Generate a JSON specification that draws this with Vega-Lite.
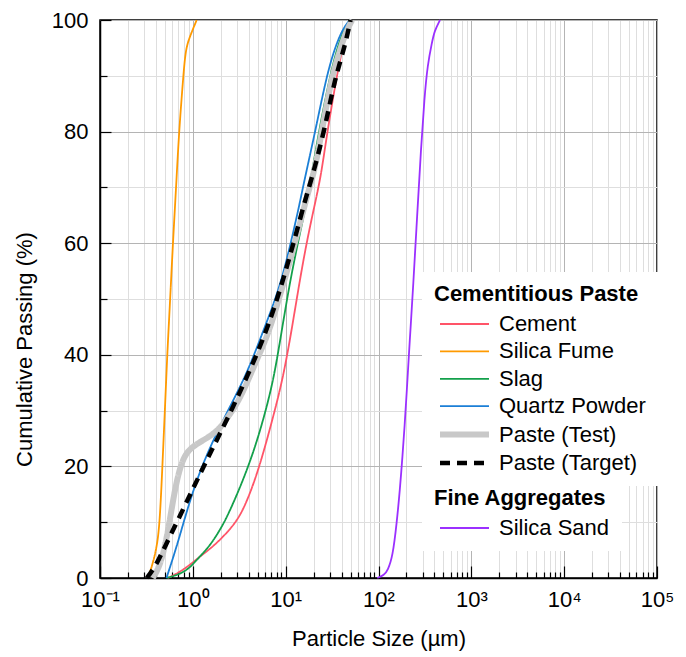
{
  "$schema": "https://vega.github.io/schema/vega-lite/v6.json",
  "width": 557,
  "height": 558,
  "autosize": {"type": "none"},
  "padding": {"left": 100, "top": 20, "right": 29, "bottom": 79},
  "background": "white",
  "config": {
    "font": "Liberation Sans",
    "view": {"stroke": "black", "strokeWidth": 1.5},
    "axis": {"labelFontSize": 22, "titleFontSize": 22, "labelColor": "black", "titleColor": "black", "titleFontWeight": "normal", "domainColor": "black", "domainWidth": 1.5, "tickColor": "black", "tickWidth": 1.2, "labelFlush": false, "labelOverlap": false, "labelBound": false},
    "legend": {"titleLimit": 400, "labelLimit": 400}
  },
  "datasets": {
    "paste": [
      {"material": "Cement", "size": 0.54, "passing": 0},
      {"material": "Cement", "size": 0.73, "passing": 1.1},
      {"material": "Cement", "size": 0.97, "passing": 2.6},
      {"material": "Cement", "size": 1.18, "passing": 3.8},
      {"material": "Cement", "size": 1.65, "passing": 5.6},
      {"material": "Cement", "size": 2.5, "passing": 8.6},
      {"material": "Cement", "size": 3.4, "passing": 11.6},
      {"material": "Cement", "size": 4.7, "passing": 17.6},
      {"material": "Cement", "size": 6.0, "passing": 23.5},
      {"material": "Cement", "size": 7.5, "passing": 29.5},
      {"material": "Cement", "size": 9.4, "passing": 36},
      {"material": "Cement", "size": 11.6, "passing": 44.4},
      {"material": "Cement", "size": 14.2, "passing": 53.4},
      {"material": "Cement", "size": 17, "passing": 60.5},
      {"material": "Cement", "size": 20, "passing": 66},
      {"material": "Cement", "size": 24, "passing": 72},
      {"material": "Cement", "size": 27.5, "passing": 79},
      {"material": "Cement", "size": 35.5, "passing": 90},
      {"material": "Cement", "size": 41, "passing": 95},
      {"material": "Cement", "size": 46, "passing": 98},
      {"material": "Cement", "size": 51, "passing": 100},
      {"material": "Silica Fume", "size": 0.33, "passing": 0},
      {"material": "Silica Fume", "size": 0.37, "passing": 2.6},
      {"material": "Silica Fume", "size": 0.41, "passing": 5.6},
      {"material": "Silica Fume", "size": 0.44, "passing": 9.8},
      {"material": "Silica Fume", "size": 0.47, "passing": 20},
      {"material": "Silica Fume", "size": 0.515, "passing": 35},
      {"material": "Silica Fume", "size": 0.53, "passing": 40},
      {"material": "Silica Fume", "size": 0.57, "passing": 50},
      {"material": "Silica Fume", "size": 0.61, "passing": 60},
      {"material": "Silica Fume", "size": 0.66, "passing": 70},
      {"material": "Silica Fume", "size": 0.71, "passing": 80},
      {"material": "Silica Fume", "size": 0.79, "passing": 90},
      {"material": "Silica Fume", "size": 0.82, "passing": 93},
      {"material": "Silica Fume", "size": 0.86, "passing": 95.5},
      {"material": "Silica Fume", "size": 0.97, "passing": 97.8},
      {"material": "Silica Fume", "size": 1.1, "passing": 100},
      {"material": "Slag", "size": 0.52, "passing": 0},
      {"material": "Slag", "size": 0.7, "passing": 0.6},
      {"material": "Slag", "size": 0.85, "passing": 1.4},
      {"material": "Slag", "size": 0.97, "passing": 2.2},
      {"material": "Slag", "size": 1.18, "passing": 3.8},
      {"material": "Slag", "size": 1.53, "passing": 5.8},
      {"material": "Slag", "size": 1.96, "passing": 8.6},
      {"material": "Slag", "size": 2.4, "passing": 11.3},
      {"material": "Slag", "size": 3.5, "passing": 17.6},
      {"material": "Slag", "size": 4.7, "passing": 23.5},
      {"material": "Slag", "size": 6.0, "passing": 29.5},
      {"material": "Slag", "size": 7.5, "passing": 36},
      {"material": "Slag", "size": 9.0, "passing": 44},
      {"material": "Slag", "size": 11.1, "passing": 53},
      {"material": "Slag", "size": 13.7, "passing": 60.5},
      {"material": "Slag", "size": 16.2, "passing": 66},
      {"material": "Slag", "size": 19.4, "passing": 73},
      {"material": "Slag", "size": 22.5, "passing": 79.5},
      {"material": "Slag", "size": 30, "passing": 90},
      {"material": "Slag", "size": 36, "passing": 95},
      {"material": "Slag", "size": 41.7, "passing": 98},
      {"material": "Slag", "size": 49, "passing": 100},
      {"material": "Quartz Powder", "size": 0.52, "passing": 0},
      {"material": "Quartz Powder", "size": 0.67, "passing": 5.6},
      {"material": "Quartz Powder", "size": 0.84, "passing": 11.4},
      {"material": "Quartz Powder", "size": 1.1, "passing": 17.6},
      {"material": "Quartz Powder", "size": 1.53, "passing": 23.5},
      {"material": "Quartz Powder", "size": 2.3, "passing": 29.5},
      {"material": "Quartz Powder", "size": 3.8, "passing": 36.5},
      {"material": "Quartz Powder", "size": 5.5, "passing": 43.5},
      {"material": "Quartz Powder", "size": 8.0, "passing": 50.5},
      {"material": "Quartz Powder", "size": 10.1, "passing": 56.5},
      {"material": "Quartz Powder", "size": 12, "passing": 61.8},
      {"material": "Quartz Powder", "size": 14.2, "passing": 67.2},
      {"material": "Quartz Powder", "size": 15.5, "passing": 70.4},
      {"material": "Quartz Powder", "size": 20.8, "passing": 80},
      {"material": "Quartz Powder", "size": 27.6, "passing": 90},
      {"material": "Quartz Powder", "size": 33.9, "passing": 95},
      {"material": "Quartz Powder", "size": 40.2, "passing": 98},
      {"material": "Quartz Powder", "size": 47, "passing": 99.7},
      {"material": "Quartz Powder", "size": 50, "passing": 100},
      {"material": "Paste (Test)", "size": 0.37, "passing": 0},
      {"material": "Paste (Test)", "size": 0.44, "passing": 2},
      {"material": "Paste (Test)", "size": 0.52, "passing": 6.8},
      {"material": "Paste (Test)", "size": 0.58, "passing": 11.6},
      {"material": "Paste (Test)", "size": 0.67, "passing": 17.6},
      {"material": "Paste (Test)", "size": 0.79, "passing": 21.7},
      {"material": "Paste (Test)", "size": 0.97, "passing": 23.5},
      {"material": "Paste (Test)", "size": 1.4, "passing": 25},
      {"material": "Paste (Test)", "size": 1.9, "passing": 26.5},
      {"material": "Paste (Test)", "size": 2.4, "passing": 28.9},
      {"material": "Paste (Test)", "size": 2.85, "passing": 30.7},
      {"material": "Paste (Test)", "size": 3.4, "passing": 33.1},
      {"material": "Paste (Test)", "size": 3.95, "passing": 35.5},
      {"material": "Paste (Test)", "size": 5.0, "passing": 39.5},
      {"material": "Paste (Test)", "size": 6.6, "passing": 44},
      {"material": "Paste (Test)", "size": 8.8, "passing": 51},
      {"material": "Paste (Test)", "size": 11, "passing": 56.5},
      {"material": "Paste (Test)", "size": 13.5, "passing": 62},
      {"material": "Paste (Test)", "size": 17, "passing": 68.5},
      {"material": "Paste (Test)", "size": 20.5, "passing": 73},
      {"material": "Paste (Test)", "size": 24.5, "passing": 80},
      {"material": "Paste (Test)", "size": 31, "passing": 89.5},
      {"material": "Paste (Test)", "size": 39, "passing": 95},
      {"material": "Paste (Test)", "size": 45, "passing": 98},
      {"material": "Paste (Test)", "size": 52, "passing": 100},
      {"material": "Paste (Target)", "size": 0.32, "passing": 0},
      {"material": "Paste (Target)", "size": 0.4, "passing": 2.2},
      {"material": "Paste (Target)", "size": 0.5, "passing": 5.6},
      {"material": "Paste (Target)", "size": 0.73, "passing": 11.2},
      {"material": "Paste (Target)", "size": 1.1, "passing": 17.4},
      {"material": "Paste (Target)", "size": 1.53, "passing": 22.3},
      {"material": "Paste (Target)", "size": 2.4, "passing": 28.8},
      {"material": "Paste (Target)", "size": 3.95, "passing": 36.5},
      {"material": "Paste (Target)", "size": 6.0, "passing": 43.6},
      {"material": "Paste (Target)", "size": 8.3, "passing": 50.5},
      {"material": "Paste (Target)", "size": 10.6, "passing": 56.5},
      {"material": "Paste (Target)", "size": 13.1, "passing": 62},
      {"material": "Paste (Target)", "size": 16.7, "passing": 68.5},
      {"material": "Paste (Target)", "size": 19.8, "passing": 72.5},
      {"material": "Paste (Target)", "size": 26.4, "passing": 80.5},
      {"material": "Paste (Target)", "size": 33.9, "passing": 89.5},
      {"material": "Paste (Target)", "size": 43, "passing": 95},
      {"material": "Paste (Target)", "size": 50, "passing": 100}
    ],
    "sand": [
      {"material": "Silica Sand", "size": 97, "passing": 0},
      {"material": "Silica Sand", "size": 115, "passing": 0.5},
      {"material": "Silica Sand", "size": 126, "passing": 1.4},
      {"material": "Silica Sand", "size": 142, "passing": 3.8},
      {"material": "Silica Sand", "size": 157, "passing": 9.8},
      {"material": "Silica Sand", "size": 170, "passing": 15.8},
      {"material": "Silica Sand", "size": 181, "passing": 21.7},
      {"material": "Silica Sand", "size": 192, "passing": 27.7},
      {"material": "Silica Sand", "size": 202, "passing": 33.7},
      {"material": "Silica Sand", "size": 212, "passing": 39.7},
      {"material": "Silica Sand", "size": 223, "passing": 45.6},
      {"material": "Silica Sand", "size": 235, "passing": 51.6},
      {"material": "Silica Sand", "size": 261, "passing": 65},
      {"material": "Silica Sand", "size": 287, "passing": 77},
      {"material": "Silica Sand", "size": 312, "passing": 86},
      {"material": "Silica Sand", "size": 338, "passing": 92},
      {"material": "Silica Sand", "size": 377, "passing": 96},
      {"material": "Silica Sand", "size": 400, "passing": 98},
      {"material": "Silica Sand", "size": 460, "passing": 100}
    ]
  },
  "layer": [
    {
      "data": {"name": "paste"},
      "mark": {"type": "line", "interpolate": "basis"},
      "encoding": {
        "x": {
          "field": "size", "type": "quantitative",
          "scale": {"type": "log", "domain": [0.1, 100000]},
          "axis": {"orient": "bottom", "values": [0.2,0.3,0.4,0.5,0.6,0.7,0.8,0.9,2,3,4,5,6,7,8,9,20,30,40,50,60,70,80,90,200,300,400,500,600,700,800,900,2000,3000,4000,5000,6000,7000,8000,9000,20000,30000,40000,50000,60000,70000,80000,90000], "labels": false, "domain": false, "title": null, "grid": true, "gridColor": "#dedede", "gridWidth": 1, "tickSize": -6}
        },
        "y": {
          "field": "passing", "type": "quantitative",
          "scale": {"domain": [0, 100]},
          "axis": {"orient": "left", "values": [10, 30, 50, 70, 90], "labels": false, "domain": false, "title": null, "grid": true, "gridColor": "#dedede", "gridWidth": 1, "tickSize": -7}
        },
        "color": {
          "field": "material", "type": "nominal", "title": "Cementitious Paste",
          "scale": {"domain": ["Cement", "Silica Fume", "Slag", "Quartz Powder", "Paste (Test)", "Paste (Target)"], "range": ["#ff5468", "#ff9a00", "#13a04b", "#1b7fd6", "#c8c8c8", "#000000"]},
          "legend": {"orient": "none", "legendX": 322, "legendY": 252, "direction": "vertical", "fillColor": "white", "padding": 12, "titleFontSize": 22, "titleFontWeight": "bold", "titleColor": "black", "titlePadding": 7, "labelFontSize": 22, "labelColor": "black", "symbolType": "M-1,0L8.8,0", "symbolSize": 100, "labelOffset": 43, "rowPadding": 5.4}
        },
        "strokeDash": {
          "field": "material", "type": "nominal", "title": "Cementitious Paste",
          "scale": {"domain": ["Cement", "Silica Fume", "Slag", "Quartz Powder", "Paste (Test)", "Paste (Target)"], "range": [[1, 0], [1, 0], [1, 0], [1, 0], [1, 0], [10, 7]]},
          "legend": {"orient": "none", "legendX": 322, "legendY": 252, "direction": "vertical", "fillColor": "white", "padding": 12, "titleFontSize": 22, "titleFontWeight": "bold", "titleColor": "black", "titlePadding": 7, "labelFontSize": 22, "labelColor": "black", "symbolType": "M-1,0L8.8,0", "symbolSize": 100, "labelOffset": 43, "rowPadding": 5.4}
        },
        "strokeWidth": {
          "field": "material", "type": "nominal", "title": "Cementitious Paste",
          "scale": {"type": "ordinal", "domain": ["Cement", "Silica Fume", "Slag", "Quartz Powder", "Paste (Test)", "Paste (Target)"], "range": [1.8, 1.8, 1.8, 1.8, 6, 4.5]},
          "legend": {"orient": "none", "legendX": 322, "legendY": 252, "direction": "vertical", "fillColor": "white", "padding": 12, "titleFontSize": 22, "titleFontWeight": "bold", "titleColor": "black", "titlePadding": 7, "labelFontSize": 22, "labelColor": "black", "symbolType": "M-1,0L8.8,0", "symbolSize": 100, "labelOffset": 43, "rowPadding": 5.4}
        }
      }
    },
    {
      "data": {"name": "sand"},
      "mark": {"type": "line", "interpolate": "basis", "strokeWidth": 1.8},
      "encoding": {
        "x": {
          "field": "size", "type": "quantitative",
          "scale": {"type": "log", "domain": [0.1, 100000]},
          "axis": {"orient": "bottom", "values": [0.1, 1, 10, 100, 1000, 10000, 100000], "labelExpr": "['10⁻¹','10⁰','10¹','10²','10³','10⁴','10⁵'][round(log(datum.value)/LN10)+1]", "grid": true, "gridColor": "#b4b4b4", "gridWidth": 1, "tickSize": -12, "labelPadding": 23, "title": "Particle Size (µm)", "titleY": 50, "titleBaseline": "top"}
        },
        "y": {
          "field": "passing", "type": "quantitative",
          "scale": {"domain": [0, 100]},
          "axis": {"orient": "left", "values": [0, 20, 40, 60, 80, 100], "grid": true, "gridColor": "#b4b4b4", "gridWidth": 1, "tickSize": -11, "labelPadding": 23, "title": "Cumulative Passing (%)", "titleX": -76, "titleY": 329, "titleAngle": 270, "titleBaseline": "middle", "titleAlign": "center"}
        },
        "color": {
          "field": "material", "type": "nominal", "title": "Fine Aggregates",
          "scale": {"domain": ["Silica Sand"], "range": ["#9b30ff"]},
          "legend": {"orient": "none", "legendX": 322, "legendY": 456, "direction": "vertical", "fillColor": "white", "padding": 12, "titleFontSize": 22, "titleFontWeight": "bold", "titleColor": "black", "titlePadding": 7, "labelFontSize": 22, "labelColor": "black", "symbolType": "M-1,0L8.8,0", "symbolSize": 100, "symbolStrokeWidth": 1.8, "labelOffset": 43, "rowPadding": 5.4}
        }
      }
    }
  ],
  "resolve": {
    "scale": {"color": "independent", "strokeDash": "independent", "strokeWidth": "independent"},
    "axis": {"x": "independent", "y": "independent"}
  }
}
